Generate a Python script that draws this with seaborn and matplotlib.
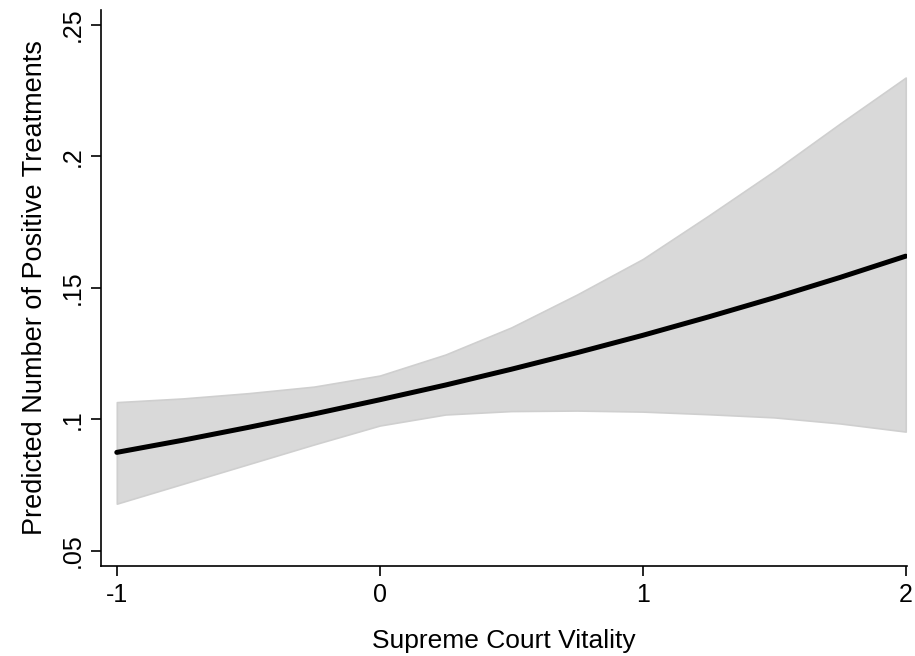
import matplotlib
matplotlib.use("Agg")
import matplotlib.pyplot as plt
import seaborn as sns
import pandas as pd

# predicted counts with 95% CI
vitality = [-1, -0.75, -0.5, -0.25, 0, 0.25, 0.5, 0.75, 1, 1.25, 1.5, 1.75, 2]
predicted = [0.0875, 0.0921, 0.0970, 0.1021, 0.1075, 0.1131, 0.1191,
             0.1254, 0.1320, 0.1390, 0.1463, 0.1540, 0.1621]
ci_upper = [0.1066, 0.1080, 0.1100, 0.1125, 0.1167, 0.1247, 0.1350,
            0.1475, 0.1610, 0.1775, 0.1945, 0.2125, 0.2300]
ci_lower = [0.0680, 0.0755, 0.0830, 0.0905, 0.0977, 0.1019, 0.1032,
            0.1034, 0.1030, 0.1020, 0.1008, 0.0985, 0.0954]

x_ticks = [-1, 0, 1, 2]
x_ticklabels = ["-1", "0", "1", "2"]
y_ticks = [0.05, 0.10, 0.15, 0.20, 0.25]
y_ticklabels = [".05", ".1", ".15", ".2", ".25"]

df = pd.DataFrame({"vitality": vitality, "predicted": predicted,
                   "lo": ci_lower, "hi": ci_upper})

sns.set_style("white")
plt.rcParams["font.family"] = ["Liberation Sans", "DejaVu Sans"]
plt.rcParams["text.color"] = "black"
plt.rcParams["axes.labelcolor"] = "black"
plt.rcParams["xtick.color"] = "black"
plt.rcParams["ytick.color"] = "black"

fig = plt.figure(figsize=(9.15, 6.56), dpi=100)
ax = fig.add_axes([0.1104, 0.1372, 0.8806, 0.8476])

# confidence band, then the prediction line on top
ax.fill_between(df["vitality"], df["lo"], df["hi"], facecolor="#d9d9d9",
                edgecolor="#cfcfcf", linewidth=1.2, zorder=1)
sns.lineplot(data=df, x="vitality", y="predicted", color="black",
             linewidth=3.6, ax=ax, zorder=2)

ax.set_xlim(-1.06, 2.004)
ax.set_ylim(0.0443, 0.2557)
ax.set_xticks(x_ticks)
ax.set_xticklabels(x_ticklabels)
ax.set_yticks(y_ticks)
ax.set_yticklabels(y_ticklabels, rotation=90, va="center")

for side in ["top", "right"]:
    ax.spines[side].set_visible(False)
for side in ["left", "bottom"]:
    ax.spines[side].set_color("black")
    ax.spines[side].set_linewidth(1.2)

ax.tick_params(axis="both", direction="out", length=7, width=1.2,
               color="black", labelcolor="black", labelsize=18, pad=5,
               left=True, bottom=True)
ax.set_xlabel("Supreme Court Vitality", fontsize=19, labelpad=16)
ax.set_ylabel("Predicted Number of Positive Treatments", fontsize=19.5, labelpad=9)

fig.savefig("out.png", dpi=100, facecolor="white")
